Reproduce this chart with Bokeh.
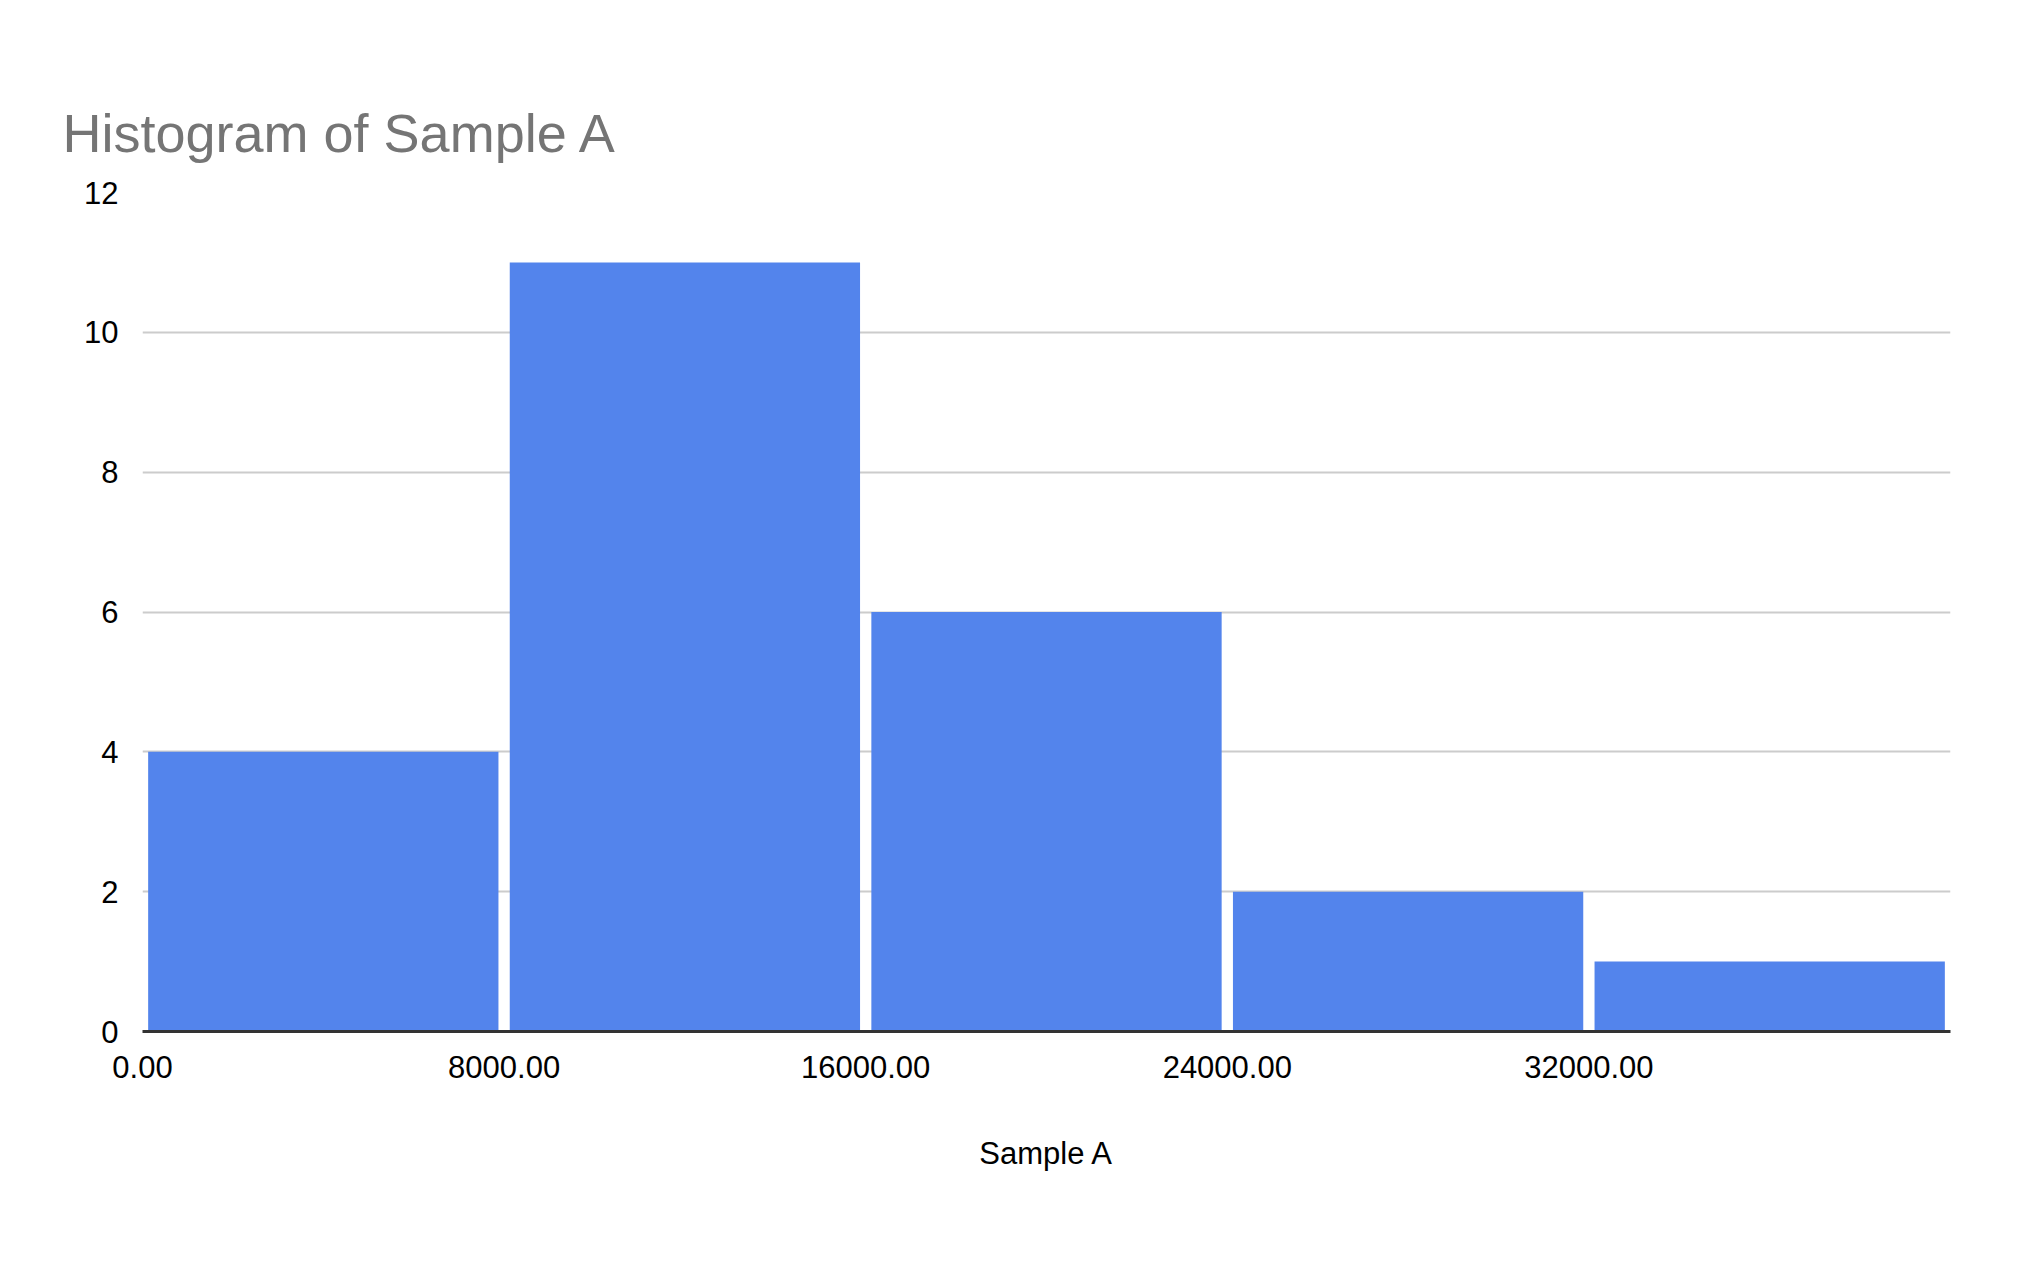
from bokeh.plotting import figure
from bokeh.models import FixedTicker, CustomJSTickFormatter, Range1d
from bokeh.embed import file_html
from bokeh.resources import INLINE

bin_left = [0, 8000, 16000, 24000, 32000]
bin_right = [8000, 16000, 24000, 32000, 40000]
counts = [4, 11, 6, 2, 1]
x_ticks = [0, 8000, 16000, 24000, 32000]
y_ticks = [0, 2, 4, 6, 8, 10, 12]

p = figure(width=2006, height=1246, output_backend="svg", toolbar_location=None,
           x_range=Range1d(0, 40000), y_range=Range1d(0, 12),
           title="Histogram of Sample A",
           min_border_left=142, min_border_right=56, min_border_bottom=215, min_border_top=192)
p.outline_line_color = None
p.border_fill_color = "white"
p.title.text_font = "Liberation Sans"
p.title.text_font_size = "54px"
p.title.text_font_style = "normal"
p.title.text_color = "#757575"
p.title.offset = -80
p.title.standoff = 60

gap = 250
p.quad(left=[l + gap / 2 for l in bin_left], right=[r - gap / 2 for r in bin_right],
       bottom=0, top=counts, fill_color="#5384EC", line_color=None)

p.xaxis.ticker = FixedTicker(ticks=x_ticks)
p.xaxis.formatter = CustomJSTickFormatter(code="return tick.toFixed(2);")
p.xaxis.axis_label = "Sample A"
p.xaxis.axis_label_text_font = "Liberation Sans"
p.xaxis.axis_label_text_font_size = "31px"
p.xaxis.axis_label_text_font_style = "normal"
p.xaxis.axis_label_text_color = "black"
p.xaxis.axis_label_standoff = 55
p.xaxis.axis_line_color = "#333333"
p.xaxis.axis_line_width = 3
p.yaxis.ticker = FixedTicker(ticks=y_ticks)
p.yaxis.axis_line_color = None
for ax in (p.xaxis, p.yaxis):
    ax.major_tick_line_color = None
    ax.minor_tick_line_color = None
    ax.major_label_text_font = "Liberation Sans"
    ax.major_label_text_font_size = "31px"
    ax.major_label_text_color = "black"
    ax.major_label_standoff = 18
p.xgrid.grid_line_color = None
p.ygrid.grid_line_color = "#cccccc"
p.ygrid.grid_line_width = 2

open("out.html", "w").write(file_html(p, INLINE))
